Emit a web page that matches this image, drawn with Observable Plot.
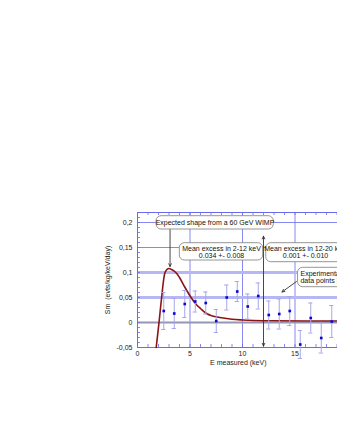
<!DOCTYPE html>
<html>
<head>
<meta charset="utf-8">
<script src="https://cdn.jsdelivr.net/npm/d3@7"></script>
<script src="https://cdn.jsdelivr.net/npm/@observablehq/plot@0.6"></script>
<style>
html, body { margin: 0; padding: 0; background: #fff; overflow: hidden; }
#chart { position: absolute; left: 0; top: 0; width: 360px; }
#chart svg { max-width: none !important; width: 360px; height: 372px; }
</style>
</head>
<body>
<div id="chart"></div>
<script>
// Measured annual-modulation amplitude per energy bin
const binE   = [2.5, 3.5, 4.5, 5.5, 6.5, 7.5, 8.5, 9.5, 10.5, 11.5, 12.5, 13.5, 14.5, 15.5, 16.5, 17.5, 18.5];
const binSm  = [0.023, 0.018, 0.037, 0.042, 0.039, 0.003, 0.050, 0.062, 0.032, 0.053, 0.015, 0.017, 0.023, -0.044, 0.009, -0.031, 0.002];
const binErr = [0.037, 0.030, 0.027, 0.021, 0.022, 0.023, 0.025, 0.020, 0.025, 0.026, 0.028, 0.030, 0.029, 0.028, 0.030, 0.030, 0.032];

// Expected shape for a 60 GeV WIMP
const curveE  = [1.78, 2.05, 2.3, 2.62, 2.8, 3.0, 3.25, 3.65, 4.0, 4.5, 5.1, 5.6, 6.0, 6.5, 7.0, 8.0, 9.0, 10, 11, 13, 16, 20];
const curveSm = [-0.05, 0, 0.05, 0.1, 0.106, 0.108, 0.106, 0.1, 0.09, 0.071, 0.05, 0.036, 0.028, 0.019, 0.014, 0.0095, 0.0065, 0.005, 0.004, 0.0035, 0.003, 0.003];

const xTicks = [0, 5, 10, 15, 20];
const xTickLabels = ["0", "5", "10", "15", "20"];
const yTicks = [-0.05, 0, 0.05, 0.1, 0.15, 0.2];
const yTickLabels = ["-0,05", "0", "0,05", "0,1", "0,15", "0,2"];
const thinGridY = [0.15, 0.2];
const thickGridY = [0.05, 0.1];
const gridX = [5, 10, 15];

const xTitle = "E measured (keV)";
const yTitle = "Sm\u00a0 (evts/kg/keV/day)";

// annotation boxes and texts
const boxes = [
  {x1: 1.81, x2: 12.98, y1: 0.186, y2: 0.2126},
  {x1: 4.03, x2: 11.97, y1: 0.124, y2: 0.1586},
  {x1: 12.26, x2: 19.9, y1: 0.1206, y2: 0.1586},
  {x1: 15.29, x2: 23, y1: 0.0706, y2: 0.1094}
];
const notesCenter = [
  {x: 7.38, y: 0.1995, text: "Expected shape from a 60 GeV WIMP"},
  {x: 8.0, y: 0.1475, text: "Mean excess in 2-12 keV"},
  {x: 8.0, y: 0.1335, text: "0.034 +- 0.008"},
  {x: 16.0, y: 0.1475, text: "Mean excess in 12-20 keV"},
  {x: 16.0, y: 0.1335, text: "0.001 +- 0.010"}
];
const notesLeft = [
  {x: 15.52, y: 0.098, text: "Experimental"},
  {x: 15.52, y: 0.0835, text: "data points [DAMA]"}
];
const arrows = [
  {x1: 3.1, y1: 0.186, x2: 3.1, y2: 0.112},
  {x1: 15.14, y1: 0.082, x2: 13.76, y2: 0.061},
  {x1: 12, y1: 0.06, x2: 12, y2: 0.1726},
  {x1: 12, y1: 0.06, x2: 12, y2: -0.047}
];

const points = binE.map((e, i) => ({x: e, y: binSm[i], lo: binSm[i] - binErr[i], hi: binSm[i] + binErr[i]}));
const curve = curveE.map((e, i) => ({x: e, y: curveSm[i]}));
const xLab = new Map(xTicks.map((t, i) => [t, xTickLabels[i]]));
const yLab = new Map(yTicks.map((t, i) => [t, yTickLabels[i]]));

const blue = "#6a6aee";
const lav = "#b7b7f5";

const chart = Plot.plot({
  width: 360,
  height: 372,
  marginLeft: 137,
  marginRight: 13,
  marginTop: 212,
  marginBottom: 25,
  style: {fontFamily: "'Liberation Sans', Arial, sans-serif", fontSize: "7px", color: "#222", background: "white", maxWidth: "none"},
  x: {domain: [0, 20]},
  y: {domain: [-0.05, 0.22]},
  marks: [
    Plot.ruleY(thinGridY, {stroke: blue, strokeWidth: 0.8}),
    Plot.ruleX(gridX, {stroke: blue, strokeWidth: 0.8}),
    Plot.ruleY(thickGridY, {stroke: lav, strokeWidth: 3}),
    Plot.ruleY([0], {stroke: "#9595b5", strokeWidth: 2}),
    // minor ticks
    Plot.ruleX(d3.range(1, 20), {stroke: blue, strokeWidth: 0.8, insetTop: 132}),
    Plot.ruleX(d3.range(1, 20), {stroke: blue, strokeWidth: 0.8, insetBottom: 132}),
    Plot.ruleY(d3.range(-4, 22).map(d => d / 100), {stroke: blue, strokeWidth: 0.8, insetRight: 207}),
    Plot.frame({stroke: blue, strokeWidth: 1}),
    Plot.line(curve, {x: "x", y: "y", curve: "catmull-rom", stroke: "#8b1414", strokeWidth: 1.6}),
    Plot.ruleX(points, {x: "x", y1: "lo", y2: "hi", stroke: "#a6a6ea", strokeWidth: 1}),
    Plot.ruleY(points, {y: "lo", x1: d => d.x - 0.2, x2: d => d.x + 0.2, stroke: "#a6a6ea", strokeWidth: 1}),
    Plot.ruleY(points, {y: "hi", x1: d => d.x - 0.2, x2: d => d.x + 0.2, stroke: "#a6a6ea", strokeWidth: 1}),
    Plot.dot(points, {x: "x", y: "y", symbol: "square", r: 1.5, fill: "#0a0ad0", stroke: "none"}),
    Plot.arrow(arrows, {x1: "x1", y1: "y1", x2: "x2", y2: "y2", stroke: "#333", strokeWidth: 0.9, headLength: 5, headAngle: 50}),
    Plot.rect(boxes, {x1: "x1", x2: "x2", y1: "y1", y2: "y2", rx: 5, fill: "white", stroke: "#8a8a8a", strokeWidth: 0.9}),
    Plot.text(notesCenter, {x: "x", y: "y", text: "text", fill: "#111", fontSize: 7}),
    Plot.text(notesLeft, {x: "x", y: "y", text: "text", fill: "#111", fontSize: 7, textAnchor: "start"}),
    Plot.axisX({ticks: xTicks, tickFormat: d => xLab.get(d), tickSize: 0, tickPadding: 4, label: null, fontSize: 7}),
    Plot.axisY({ticks: yTicks, tickFormat: d => yLab.get(d), tickSize: 0, tickPadding: 5, label: null, fontSize: 7}),
    Plot.text([xTitle], {x: 9.6, frameAnchor: "bottom", dy: 17, fontSize: 7, fill: "#222"}),
    Plot.text([yTitle], {frameAnchor: "left", dx: -30, rotate: -90, textAnchor: "middle", fontSize: 7, fill: "#222"})
  ]
});
document.getElementById("chart").append(chart);
</script>
</body>
</html>
